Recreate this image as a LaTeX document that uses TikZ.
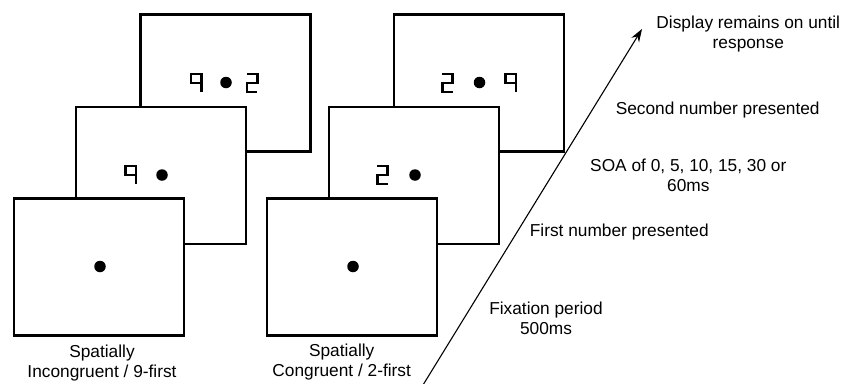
\documentclass[tikz,border=0pt]{standalone}
\usepackage{fontspec}
\setmainfont{Liberation Sans}
\usetikzlibrary{arrows.meta}

\tikzset{
  screen/.style={draw, fill=white, line width=2.4pt, inner sep=0pt,
    minimum width=170pt, minimum height=137pt},
  fixdot/.style={circle, fill=black, inner sep=0pt, minimum size=11.5pt},
  lbl/.style={align=center, font=\fontsize{17.3}{20}\selectfont, inner sep=0pt},
  segline/.style={line width=2.6pt, line cap=butt, line join=miter},
  pics/nine/.style={code={
    \draw[segline] (5.25,9) -- (5.25,-9) -- (-5.25,-9) -- (-5.25,0) -- (5.25,0);}},
  pics/two/.style={code={
    \draw[segline] (-5.25,-9) -- (5.25,-9) -- (5.25,0) -- (-5.25,0) -- (-5.25,9) -- (5.25,9);}},
}

\begin{document}
\begin{tikzpicture}[x=1pt, y=-1pt]
\useasboundingbox (0,0) rectangle (854,383);

% ---- spatially incongruent sequence (9 first) ----
\node[screen] (ib) at (225.3,83) {};
\node[screen] (im) at (161,175.5) {};
\node[screen] (if) at (99.2,267) {};
\node[fixdot] (ibdot) at (226,82.5) {};
\node[fixdot] (imdot) at (162,175) {};
\node[fixdot] (ifdot) at (100,266.5) {};
\pic at (196.3,83) {nine};
\pic at (252.2,83) {two};
\pic at (130.7,175) {nine};

% ---- spatially congruent sequence (2 first) ----
\node[screen] (cb) at (478.7,83) {};
\node[screen] (cm) at (413.7,175.5) {};
\node[screen] (cf) at (352,267) {};
\node[fixdot] (cbdot) at (479.5,82.5) {};
\node[fixdot] (cmdot) at (415,175) {};
\node[fixdot] (cfdot) at (353,266.5) {};
\pic at (447.5,83) {two};
\pic at (510.8,83) {nine};
\pic at (382.5,175) {two};

% ---- condition labels ----
\node[lbl] (ilbl) at (102,363.5) {Spatially\\Incongruent / 9-first};
\node[lbl] (clbl) at (341.7,362) {Spatially\\Congruent / 2-first};

% ---- time axis ----
\coordinate (tstart) at (423,385);
\coordinate (tend) at (642,29);
\draw[line width=1.1pt, -{Stealth[length=13pt, width=9pt]}] (tstart) -- (tend);

% ---- event labels ----
\node[lbl] (disp) at (748.3,34.3) {Display remains on until\\response};
\node[lbl] (second) at (717.7,110) {Second number presented};
\node[lbl] (soa) at (688.3,175.3) {SOA of 0, 5, 10, 15, 30 or\\60ms};
\node[lbl] (first) at (619.3,232.3) {First number presented};
\node[lbl] (fix) at (546,318.3) {Fixation period\\500ms};
\end{tikzpicture}
\end{document}
